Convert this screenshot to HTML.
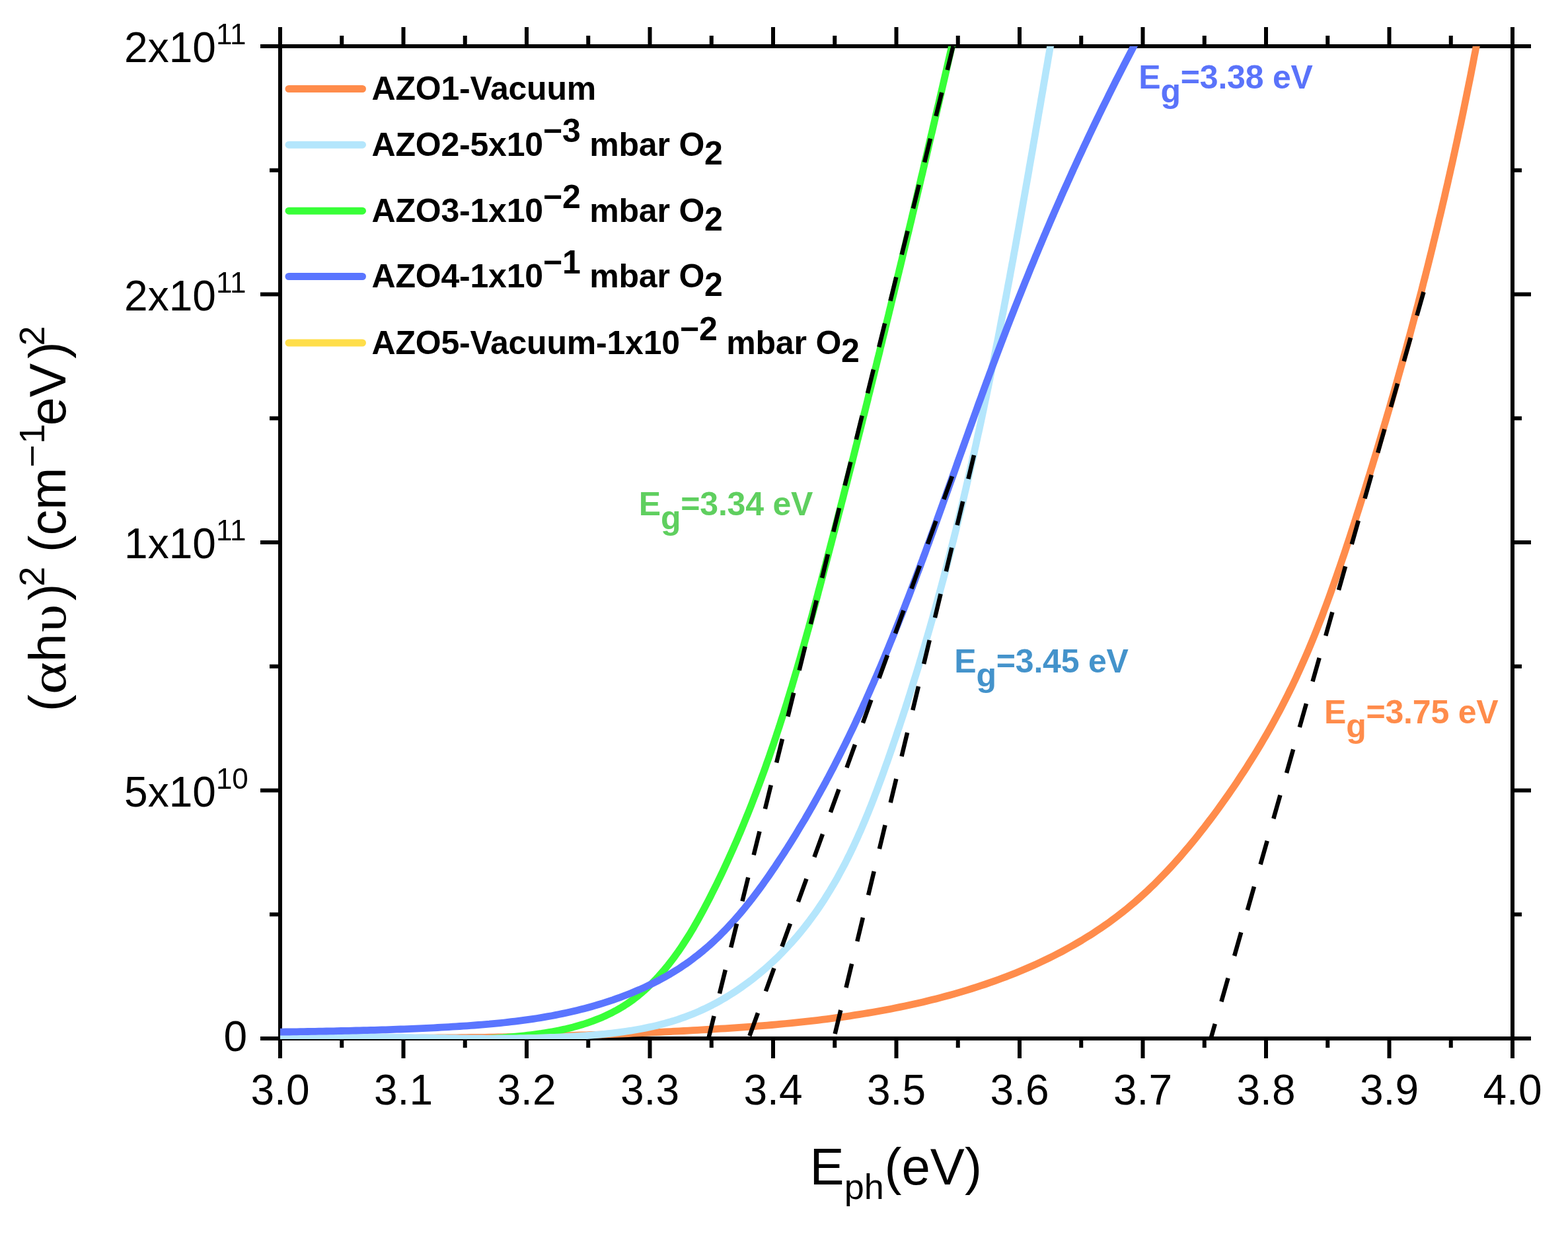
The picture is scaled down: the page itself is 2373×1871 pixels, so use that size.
<!DOCTYPE html>
<html><head><meta charset="utf-8"><title>Tauc plot</title>
<style>html,body{margin:0;padding:0;background:#fff;}svg{display:block;}</style></head><body>
<svg width="2373" height="1871" viewBox="0 0 2373 1871" font-family="Liberation Sans, Arial, sans-serif">
<rect width="2373" height="1871" fill="#fff"/>
<defs><clipPath id="pc"><rect x="424" y="70" width="1865" height="1503"/></clipPath></defs>
<path d="M421,70 H2292 M421,1572 H2292 M424,67 V1575 M2289,67 V1575 M424.00,1572 V1602 M424.00,70 V41 M517.25,1572 V1586 M517.25,70 V54 M610.50,1572 V1602 M610.50,70 V41 M703.75,1572 V1586 M703.75,70 V54 M797.00,1572 V1602 M797.00,70 V41 M890.25,1572 V1586 M890.25,70 V54 M983.50,1572 V1602 M983.50,70 V41 M1076.75,1572 V1586 M1076.75,70 V54 M1170.00,1572 V1602 M1170.00,70 V41 M1263.25,1572 V1586 M1263.25,70 V54 M1356.50,1572 V1602 M1356.50,70 V41 M1449.75,1572 V1586 M1449.75,70 V54 M1543.00,1572 V1602 M1543.00,70 V41 M1636.25,1572 V1586 M1636.25,70 V54 M1729.50,1572 V1602 M1729.50,70 V41 M1822.75,1572 V1586 M1822.75,70 V54 M1916.00,1572 V1602 M1916.00,70 V41 M2009.25,1572 V1586 M2009.25,70 V54 M2102.50,1572 V1602 M2102.50,70 V41 M2195.75,1572 V1586 M2195.75,70 V54 M2289.00,1572 V1602 M2289.00,70 V41 M424,1572.00 H394 M2289,1572.00 H2317 M424,1384.25 H408 M2289,1384.25 H2303 M424,1196.50 H394 M2289,1196.50 H2317 M424,1008.75 H408 M2289,1008.75 H2303 M424,821.00 H394 M2289,821.00 H2317 M424,633.25 H408 M2289,633.25 H2303 M424,445.50 H394 M2289,445.50 H2317 M424,257.75 H408 M2289,257.75 H2303 M424,70.00 H394 M2289,70.00 H2317" stroke="#000" stroke-width="6" fill="none" stroke-linecap="butt"/>
<g clip-path="url(#pc)" fill="none" stroke-width="10.8" stroke-linejoin="round">
<path d="M403.9,1570.7 L411.0,1570.8 L418.0,1570.9 L425.0,1570.9 L432.1,1570.9 L439.1,1571.0 L446.1,1571.0 L453.1,1571.1 L460.2,1571.1 L467.2,1571.2 L474.2,1571.2 L481.3,1571.2 L488.3,1571.3 L495.3,1571.3 L502.3,1571.3 L509.3,1571.3 L516.4,1571.4 L523.4,1571.4 L530.4,1571.4 L537.4,1571.4 L544.4,1571.4 L551.4,1571.4 L558.5,1571.4 L565.5,1571.4 L572.5,1571.4 L579.5,1571.4 L586.5,1571.4 L593.5,1571.4 L600.5,1571.4 L607.5,1571.3 L614.5,1571.3 L621.5,1571.3 L628.6,1571.3 L635.6,1571.2 L642.6,1571.2 L649.6,1571.1 L656.6,1571.1 L663.6,1571.0 L670.6,1571.0 L677.6,1570.9 L684.6,1570.9 L691.6,1570.8 L698.6,1570.7 L705.6,1570.6 L712.6,1570.5 L719.6,1570.5 L726.6,1570.4 L733.6,1570.3 L740.6,1570.2 L747.6,1570.1 L754.6,1569.9 L761.6,1569.8 L768.6,1569.7 L775.6,1569.6 L782.6,1569.4 L789.6,1569.3 L796.6,1569.2 L803.6,1569.0 L810.6,1568.9 L817.6,1568.7 L824.6,1568.5 L831.6,1568.4 L838.6,1568.2 L845.6,1568.0 L852.6,1567.8 L859.6,1567.6 L866.6,1567.4 L873.6,1567.2 L880.6,1567.0 L887.6,1566.8 L894.6,1566.5 L901.6,1566.3 L908.6,1566.1 L915.6,1565.8 L922.6,1565.6 L929.6,1565.3 L936.6,1565.0 L943.6,1564.8 L950.6,1564.5 L957.6,1564.2 L964.6,1563.9 L971.6,1563.6 L978.6,1563.3 L985.6,1562.9 L992.6,1562.6 L999.6,1562.3 L1006.6,1561.9 L1013.6,1561.6 L1020.6,1561.2 L1027.6,1560.9 L1034.6,1560.5 L1041.6,1560.1 L1048.7,1559.7 L1055.7,1559.3 L1062.7,1558.9 L1069.7,1558.5 L1076.7,1558.1 L1083.7,1557.7 L1090.7,1557.2 L1097.7,1556.8 L1104.7,1556.3 L1111.8,1555.8 L1118.8,1555.3 L1125.8,1554.8 L1132.8,1554.3 L1139.8,1553.8 L1146.8,1553.2 L1153.8,1552.7 L1160.8,1552.1 L1167.8,1551.5 L1174.8,1550.8 L1181.8,1550.2 L1188.8,1549.5 L1195.8,1548.9 L1202.8,1548.2 L1209.8,1547.4 L1216.7,1546.7 L1223.7,1545.9 L1230.7,1545.1 L1237.7,1544.3 L1244.6,1543.4 L1251.6,1542.6 L1258.5,1541.7 L1265.5,1540.7 L1272.4,1539.8 L1279.4,1538.8 L1286.3,1537.8 L1293.2,1536.7 L1300.2,1535.6 L1307.1,1534.5 L1314.0,1533.4 L1320.9,1532.2 L1327.8,1531.0 L1334.7,1529.8 L1341.6,1528.5 L1348.5,1527.2 L1355.3,1525.8 L1362.2,1524.4 L1369.1,1523.0 L1375.9,1521.5 L1382.7,1520.0 L1389.6,1518.5 L1396.4,1516.9 L1403.2,1515.2 L1410.0,1513.6 L1416.8,1511.9 L1423.6,1510.1 L1430.4,1508.3 L1437.2,1506.5 L1443.9,1504.6 L1450.7,1502.6 L1457.4,1500.6 L1464.1,1498.6 L1470.8,1496.5 L1477.5,1494.4 L1484.2,1492.2 L1490.9,1490.0 L1497.5,1487.7 L1504.1,1485.4 L1510.7,1483.0 L1517.3,1480.5 L1523.9,1478.1 L1530.4,1475.5 L1536.9,1472.9 L1543.4,1470.3 L1549.9,1467.6 L1556.3,1464.8 L1562.7,1462.0 L1569.1,1459.1 L1575.4,1456.2 L1581.7,1453.2 L1588.0,1450.1 L1594.3,1447.0 L1600.5,1443.8 L1606.7,1440.6 L1612.8,1437.3 L1618.9,1433.9 L1625.0,1430.5 L1631.0,1427.0 L1637.0,1423.5 L1642.9,1419.8 L1648.9,1416.2 L1654.7,1412.4 L1660.5,1408.6 L1666.3,1404.7 L1672.0,1400.8 L1677.7,1396.8 L1683.3,1392.7 L1688.9,1388.5 L1694.4,1384.3 L1699.9,1380.0 L1705.4,1375.6 L1710.7,1371.2 L1716.1,1366.7 L1721.3,1362.1 L1726.6,1357.4 L1731.7,1352.7 L1736.9,1348.0 L1741.9,1343.2 L1747.0,1338.3 L1752.0,1333.3 L1756.9,1328.3 L1761.8,1323.3 L1766.6,1318.2 L1771.5,1313.0 L1776.2,1307.9 L1780.9,1302.6 L1785.6,1297.3 L1790.2,1292.0 L1794.8,1286.6 L1799.4,1281.2 L1803.9,1275.8 L1808.4,1270.3 L1812.8,1264.8 L1817.2,1259.2 L1821.6,1253.7 L1825.9,1248.0 L1830.2,1242.4 L1834.5,1236.8 L1838.7,1231.1 L1842.9,1225.4 L1847.0,1219.6 L1851.1,1213.9 L1855.2,1208.1 L1859.3,1202.3 L1863.3,1196.5 L1867.3,1190.7 L1871.2,1184.9 L1875.1,1179.0 L1879.0,1173.1 L1882.9,1167.2 L1886.7,1161.3 L1890.4,1155.4 L1894.2,1149.4 L1897.9,1143.5 L1901.6,1137.5 L1905.2,1131.5 L1908.8,1125.5 L1912.3,1119.4 L1915.9,1113.4 L1919.3,1107.3 L1922.8,1101.2 L1926.2,1095.1 L1929.6,1088.9 L1932.9,1082.8 L1936.2,1076.6 L1939.4,1070.4 L1942.6,1064.2 L1945.8,1058.0 L1948.9,1051.8 L1952.0,1045.5 L1955.1,1039.3 L1958.1,1033.0 L1961.1,1026.7 L1964.0,1020.3 L1966.9,1014.0 L1969.8,1007.6 L1972.6,1001.3 L1975.4,994.9 L1978.2,988.5 L1980.9,982.1 L1983.6,975.6 L1986.3,969.2 L1988.9,962.7 L1991.5,956.2 L1994.1,949.8 L1996.6,943.3 L1999.2,936.7 L2001.7,930.2 L2004.1,923.7 L2006.6,917.1 L2009.0,910.6 L2011.4,904.0 L2013.8,897.4 L2016.1,890.8 L2018.5,884.2 L2020.8,877.6 L2023.1,871.0 L2025.4,864.4 L2027.7,857.8 L2030.0,851.1 L2032.2,844.5 L2034.5,837.9 L2036.7,831.2 L2038.9,824.5 L2041.1,817.9 L2043.3,811.2 L2045.4,804.5 L2047.6,797.9 L2049.8,791.2 L2051.9,784.5 L2054.0,777.8 L2056.2,771.1 L2058.3,764.4 L2060.4,757.7 L2062.5,751.0 L2064.6,744.4 L2066.7,737.7 L2068.7,730.9 L2070.8,724.2 L2072.9,717.5 L2074.9,710.8 L2077.0,704.1 L2079.0,697.4 L2081.1,690.7 L2083.1,684.0 L2085.1,677.3 L2087.1,670.5 L2089.1,663.8 L2091.1,657.1 L2093.1,650.4 L2095.1,643.6 L2097.1,636.9 L2099.0,630.2 L2101.0,623.5 L2103.0,616.7 L2104.9,610.0 L2106.8,603.2 L2108.8,596.5 L2110.7,589.8 L2112.6,583.0 L2114.5,576.3 L2116.4,569.5 L2118.3,562.8 L2120.2,556.0 L2122.1,549.3 L2123.9,542.5 L2125.8,535.7 L2127.7,529.0 L2129.5,522.2 L2131.3,515.5 L2133.2,508.7 L2135.0,501.9 L2136.8,495.1 L2138.6,488.4 L2140.4,481.6 L2142.2,474.8 L2144.0,468.0 L2145.8,461.3 L2147.5,454.5 L2149.3,447.7 L2151.1,440.9 L2152.8,434.1 L2154.5,427.3 L2156.3,420.5 L2158.0,413.7 L2159.7,407.0 L2161.4,400.2 L2163.1,393.4 L2164.8,386.6 L2166.5,379.7 L2168.2,372.9 L2169.8,366.1 L2171.5,359.3 L2173.1,352.5 L2174.8,345.7 L2176.4,338.9 L2178.0,332.1 L2179.7,325.2 L2181.3,318.4 L2182.9,311.6 L2184.5,304.8 L2186.1,298.0 L2187.6,291.1 L2189.2,284.3 L2190.8,277.5 L2192.3,270.6 L2193.9,263.8 L2195.4,256.9 L2197.0,250.1 L2198.5,243.3 L2200.0,236.4 L2201.5,229.6 L2203.0,222.7 L2204.5,215.9 L2206.0,209.0 L2207.4,202.2 L2208.9,195.3 L2210.4,188.5 L2211.8,181.6 L2213.3,174.7 L2214.7,167.9 L2216.1,161.0 L2217.5,154.1 L2218.9,147.3 L2220.3,140.4 L2221.7,133.5 L2223.1,126.6 L2224.5,119.8 L2225.9,112.9 L2227.2,106.0 L2228.6,99.1 L2229.9,92.2 L2231.2,85.3 L2232.6,78.5 L2233.9,71.6 L2235.2,64.7 L2236.5,57.8 L2237.8,50.9 L2239.1,44.0" stroke="#FF8C4B"/>
<path d="M403.7,1579.1 L409.2,1579.7 L414.8,1580.2 L420.3,1580.8 L425.8,1581.2 L431.2,1581.7 L436.7,1582.1 L442.2,1582.5 L447.6,1582.8 L453.1,1583.2 L458.5,1583.5 L463.9,1583.7 L469.3,1584.0 L474.7,1584.2 L480.1,1584.4 L485.5,1584.5 L490.9,1584.6 L496.2,1584.7 L501.6,1584.8 L506.9,1584.9 L512.3,1584.9 L517.6,1584.9 L522.9,1584.9 L528.2,1584.8 L533.6,1584.8 L538.9,1584.7 L544.2,1584.6 L549.5,1584.5 L554.8,1584.3 L560.1,1584.2 L565.3,1584.0 L570.6,1583.8 L575.9,1583.6 L581.2,1583.4 L586.5,1583.1 L591.7,1582.9 L597.0,1582.6 L602.3,1582.3 L607.5,1582.0 L612.8,1581.7 L618.1,1581.4 L623.3,1581.1 L628.6,1580.7 L633.9,1580.4 L639.1,1580.0 L644.4,1579.7 L649.7,1579.3 L654.9,1578.9 L660.2,1578.5 L665.5,1578.1 L670.8,1577.7 L676.0,1577.3 L681.3,1576.9 L686.6,1576.5 L691.9,1576.1 L697.2,1575.7 L702.5,1575.3 L707.8,1574.9 L713.1,1574.5 L718.4,1574.1 L723.7,1573.7 L729.0,1573.3 L734.4,1572.9 L739.7,1572.4 L745.1,1572.0 L750.4,1571.6 L755.8,1571.2 L761.1,1570.8 L766.5,1570.3 L771.8,1569.9 L777.2,1569.4 L782.5,1568.9 L787.9,1568.3 L793.2,1567.8 L798.5,1567.2 L803.9,1566.5 L809.2,1565.8 L814.5,1565.1 L819.8,1564.4 L825.1,1563.5 L830.4,1562.7 L835.7,1561.8 L841.0,1560.8 L846.2,1559.7 L851.4,1558.6 L856.7,1557.5 L861.9,1556.2 L867.1,1554.9 L872.2,1553.5 L877.4,1552.0 L882.5,1550.5 L887.6,1548.8 L892.6,1547.1 L897.6,1545.3 L902.6,1543.4 L907.6,1541.4 L912.4,1539.4 L917.3,1537.2 L922.1,1534.9 L926.8,1532.6 L931.5,1530.1 L936.1,1527.5 L940.6,1524.9 L945.1,1522.1 L949.5,1519.2 L953.8,1516.2 L958.1,1513.2 L962.3,1510.0 L966.4,1506.7 L970.4,1503.3 L974.4,1499.9 L978.4,1496.3 L982.2,1492.7 L986.0,1489.0 L989.7,1485.3 L993.4,1481.5 L997.0,1477.6 L1000.5,1473.6 L1004.0,1469.6 L1007.4,1465.5 L1010.8,1461.4 L1014.1,1457.2 L1017.3,1453.0 L1020.5,1448.7 L1023.6,1444.4 L1026.7,1440.1 L1029.7,1435.7 L1032.7,1431.3 L1035.6,1426.8 L1038.5,1422.3 L1041.4,1417.8 L1044.2,1413.3 L1046.9,1408.7 L1049.7,1404.1 L1052.3,1399.4 L1055.0,1394.8 L1057.6,1390.1 L1060.2,1385.4 L1062.8,1380.7 L1065.3,1376.0 L1067.8,1371.2 L1070.3,1366.5 L1072.8,1361.7 L1075.2,1357.0 L1077.6,1352.2 L1080.0,1347.4 L1082.4,1342.6 L1084.8,1337.8 L1087.1,1333.0 L1089.5,1328.2 L1091.8,1323.4 L1094.1,1318.5 L1096.3,1313.7 L1098.6,1308.8 L1100.8,1304.0 L1103.0,1299.1 L1105.2,1294.3 L1107.4,1289.4 L1109.6,1284.5 L1111.7,1279.6 L1113.9,1274.7 L1116.0,1269.8 L1118.1,1264.9 L1120.2,1260.0 L1122.2,1255.1 L1124.3,1250.2 L1126.3,1245.3 L1128.3,1240.3 L1130.3,1235.4 L1132.3,1230.4 L1134.3,1225.5 L1136.3,1220.5 L1138.2,1215.6 L1140.1,1210.6 L1142.0,1205.6 L1143.9,1200.7 L1145.8,1195.7 L1147.7,1190.7 L1149.6,1185.7 L1151.4,1180.7 L1153.2,1175.7 L1155.1,1170.7 L1156.9,1165.7 L1158.7,1160.6 L1160.4,1155.6 L1162.2,1150.6 L1164.0,1145.6 L1165.7,1140.5 L1167.4,1135.5 L1169.2,1130.4 L1170.9,1125.4 L1172.6,1120.3 L1174.3,1115.3 L1175.9,1110.2 L1177.6,1105.1 L1179.3,1100.1 L1180.9,1095.0 L1182.5,1089.9 L1184.2,1084.8 L1185.8,1079.8 L1187.4,1074.7 L1189.0,1069.6 L1190.6,1064.5 L1192.1,1059.4 L1193.7,1054.3 L1195.3,1049.2 L1196.8,1044.1 L1198.4,1039.0 L1199.9,1033.8 L1201.4,1028.7 L1202.9,1023.6 L1204.4,1018.5 L1205.9,1013.4 L1207.4,1008.2 L1208.9,1003.1 L1210.4,998.0 L1211.9,992.8 L1213.3,987.7 L1214.8,982.6 L1216.3,977.4 L1217.7,972.3 L1219.2,967.1 L1220.6,962.0 L1222.0,956.8 L1223.5,951.7 L1224.9,946.5 L1226.3,941.4 L1227.7,936.2 L1229.1,931.1 L1230.5,925.9 L1231.9,920.7 L1233.3,915.6 L1234.7,910.4 L1236.1,905.3 L1237.5,900.1 L1238.8,894.9 L1240.2,889.8 L1241.6,884.6 L1243.0,879.4 L1244.3,874.3 L1245.7,869.1 L1247.0,863.9 L1248.4,858.7 L1249.8,853.6 L1251.1,848.4 L1252.5,843.2 L1253.8,838.1 L1255.2,832.9 L1256.5,827.7 L1257.9,822.5 L1259.2,817.4 L1260.6,812.2 L1261.9,807.0 L1263.3,801.9 L1264.6,796.7 L1265.9,791.5 L1267.3,786.3 L1268.6,781.2 L1269.9,776.0 L1271.3,770.8 L1272.6,765.6 L1273.9,760.5 L1275.3,755.3 L1276.6,750.1 L1277.9,744.9 L1279.2,739.8 L1280.6,734.6 L1281.9,729.4 L1283.2,724.2 L1284.5,719.1 L1285.8,713.9 L1287.2,708.7 L1288.5,703.5 L1289.8,698.4 L1291.1,693.2 L1292.4,688.0 L1293.7,682.8 L1295.0,677.6 L1296.3,672.5 L1297.6,667.3 L1298.9,662.1 L1300.2,656.9 L1301.5,651.8 L1302.8,646.6 L1304.1,641.4 L1305.4,636.2 L1306.7,631.0 L1308.0,625.9 L1309.3,620.7 L1310.6,615.5 L1311.9,610.3 L1313.2,605.1 L1314.4,599.9 L1315.7,594.8 L1317.0,589.6 L1318.3,584.4 L1319.6,579.2 L1320.9,574.0 L1322.1,568.9 L1323.4,563.7 L1324.7,558.5 L1326.0,553.3 L1327.2,548.1 L1328.5,542.9 L1329.8,537.8 L1331.1,532.6 L1332.3,527.4 L1333.6,522.2 L1334.9,517.0 L1336.1,511.8 L1337.4,506.6 L1338.7,501.5 L1339.9,496.3 L1341.2,491.1 L1342.4,485.9 L1343.7,480.7 L1345.0,475.5 L1346.2,470.3 L1347.5,465.1 L1348.7,460.0 L1350.0,454.8 L1351.2,449.6 L1352.5,444.4 L1353.7,439.2 L1355.0,434.0 L1356.2,428.8 L1357.5,423.6 L1358.7,418.4 L1360.0,413.2 L1361.2,408.1 L1362.5,402.9 L1363.7,397.7 L1365.0,392.5 L1366.2,387.3 L1367.4,382.1 L1368.7,376.9 L1369.9,371.7 L1371.2,366.5 L1372.4,361.3 L1373.6,356.1 L1374.9,350.9 L1376.1,345.8 L1377.3,340.6 L1378.6,335.4 L1379.8,330.2 L1381.0,325.0 L1382.3,319.8 L1383.5,314.6 L1384.7,309.4 L1386.0,304.2 L1387.2,299.0 L1388.4,293.8 L1389.6,288.6 L1390.9,283.4 L1392.1,278.2 L1393.3,273.0 L1394.5,267.8 L1395.8,262.6 L1397.0,257.4 L1398.2,252.2 L1399.4,247.0 L1400.6,241.8 L1401.9,236.6 L1403.1,231.4 L1404.3,226.2 L1405.5,221.0 L1406.7,215.8 L1407.9,210.6 L1409.1,205.4 L1410.4,200.2 L1411.6,195.0 L1412.8,189.8 L1414.0,184.6 L1415.2,179.4 L1416.4,174.2 L1417.6,169.0 L1418.8,163.8 L1420.1,158.6 L1421.3,153.4 L1422.5,148.2 L1423.7,143.0 L1424.9,137.8 L1426.1,132.6 L1427.3,127.4 L1428.5,122.2 L1429.7,117.0 L1430.9,111.8 L1432.1,106.6 L1433.3,101.4 L1434.5,96.2 L1435.7,90.9 L1436.9,85.7 L1438.1,80.5 L1439.3,75.3 L1440.5,70.1 L1441.7,64.9 L1442.9,59.7 L1444.1,54.5 L1445.3,49.3 L1446.5,44.1" stroke="#38FF38"/>
<path d="M404.0,1572.7 L409.8,1572.4 L415.5,1572.1 L421.3,1571.8 L427.0,1571.5 L432.7,1571.3 L438.5,1571.1 L444.2,1570.9 L449.9,1570.7 L455.7,1570.5 L461.4,1570.4 L467.1,1570.3 L472.9,1570.1 L478.6,1570.0 L484.3,1570.0 L490.0,1569.9 L495.7,1569.8 L501.5,1569.8 L507.2,1569.7 L512.9,1569.7 L518.6,1569.7 L524.3,1569.7 L530.0,1569.7 L535.7,1569.7 L541.5,1569.7 L547.2,1569.7 L552.9,1569.8 L558.6,1569.8 L564.3,1569.9 L570.0,1569.9 L575.7,1570.0 L581.4,1570.1 L587.1,1570.1 L592.8,1570.2 L598.6,1570.3 L604.3,1570.4 L610.0,1570.5 L615.7,1570.6 L621.4,1570.7 L627.1,1570.8 L632.8,1570.8 L638.5,1570.9 L644.2,1571.0 L649.9,1571.1 L655.6,1571.2 L661.4,1571.3 L667.1,1571.4 L672.8,1571.5 L678.5,1571.6 L684.2,1571.6 L689.9,1571.7 L695.6,1571.8 L701.4,1571.8 L707.1,1571.9 L712.8,1571.9 L718.5,1572.0 L724.3,1572.0 L730.0,1572.0 L735.7,1572.1 L741.4,1572.1 L747.2,1572.1 L752.9,1572.0 L758.6,1572.0 L764.4,1572.0 L770.1,1571.9 L775.8,1571.9 L781.6,1571.8 L787.3,1571.7 L793.1,1571.6 L798.8,1571.5 L804.6,1571.4 L810.3,1571.3 L816.1,1571.1 L821.8,1570.9 L827.6,1570.7 L833.4,1570.5 L839.1,1570.3 L844.9,1570.1 L850.7,1569.8 L856.5,1569.5 L862.2,1569.2 L868.0,1568.9 L873.8,1568.6 L879.6,1568.2 L885.4,1567.8 L891.1,1567.4 L896.9,1566.9 L902.7,1566.4 L908.5,1565.9 L914.2,1565.3 L920.0,1564.7 L925.7,1564.1 L931.4,1563.4 L937.2,1562.7 L942.9,1561.9 L948.6,1561.0 L954.3,1560.2 L959.9,1559.2 L965.6,1558.2 L971.2,1557.2 L976.8,1556.1 L982.4,1554.9 L988.0,1553.7 L993.5,1552.4 L999.1,1551.0 L1004.6,1549.6 L1010.1,1548.0 L1015.5,1546.5 L1020.9,1544.8 L1026.3,1543.1 L1031.7,1541.2 L1037.0,1539.3 L1042.3,1537.3 L1047.6,1535.3 L1052.8,1533.1 L1058.0,1530.9 L1063.1,1528.5 L1068.3,1526.1 L1073.4,1523.6 L1078.4,1521.1 L1083.4,1518.4 L1088.4,1515.7 L1093.3,1512.9 L1098.2,1510.0 L1103.1,1507.0 L1107.9,1504.0 L1112.6,1500.9 L1117.4,1497.7 L1122.1,1494.5 L1126.7,1491.2 L1131.3,1487.8 L1135.9,1484.4 L1140.4,1480.9 L1144.9,1477.3 L1149.3,1473.7 L1153.7,1470.0 L1158.0,1466.3 L1162.3,1462.5 L1166.5,1458.6 L1170.7,1454.7 L1174.9,1450.8 L1179.0,1446.8 L1183.0,1442.7 L1187.0,1438.6 L1191.0,1434.4 L1194.8,1430.2 L1198.7,1426.0 L1202.5,1421.7 L1206.2,1417.4 L1209.9,1413.0 L1213.5,1408.6 L1217.1,1404.1 L1220.6,1399.6 L1224.1,1395.1 L1227.5,1390.5 L1230.9,1385.9 L1234.2,1381.3 L1237.5,1376.6 L1240.7,1371.9 L1243.8,1367.2 L1247.0,1362.5 L1250.0,1357.7 L1253.0,1352.8 L1256.0,1348.0 L1258.9,1343.1 L1261.8,1338.2 L1264.7,1333.3 L1267.5,1328.3 L1270.2,1323.3 L1272.9,1318.3 L1275.6,1313.3 L1278.3,1308.2 L1280.9,1303.1 L1283.4,1298.0 L1286.0,1292.9 L1288.5,1287.7 L1290.9,1282.6 L1293.3,1277.4 L1295.7,1272.2 L1298.1,1267.0 L1300.4,1261.7 L1302.8,1256.5 L1305.0,1251.2 L1307.3,1245.9 L1309.5,1240.6 L1311.7,1235.3 L1313.9,1230.0 L1316.0,1224.6 L1318.2,1219.3 L1320.3,1213.9 L1322.4,1208.5 L1324.4,1203.1 L1326.5,1197.7 L1328.5,1192.3 L1330.5,1186.9 L1332.5,1181.5 L1334.5,1176.1 L1336.5,1170.7 L1338.4,1165.2 L1340.3,1159.8 L1342.3,1154.4 L1344.2,1148.9 L1346.1,1143.5 L1348.0,1138.0 L1349.9,1132.6 L1351.7,1127.1 L1353.6,1121.7 L1355.5,1116.2 L1357.3,1110.8 L1359.1,1105.3 L1361.0,1099.9 L1362.8,1094.4 L1364.6,1089.0 L1366.4,1083.5 L1368.2,1078.0 L1370.0,1072.6 L1371.7,1067.1 L1373.5,1061.6 L1375.2,1056.1 L1377.0,1050.7 L1378.7,1045.2 L1380.4,1039.7 L1382.1,1034.2 L1383.8,1028.7 L1385.5,1023.3 L1387.2,1017.8 L1388.9,1012.3 L1390.6,1006.8 L1392.2,1001.3 L1393.9,995.8 L1395.5,990.3 L1397.1,984.8 L1398.8,979.3 L1400.4,973.8 L1402.0,968.3 L1403.6,962.8 L1405.2,957.3 L1406.8,951.8 L1408.3,946.3 L1409.9,940.8 L1411.5,935.3 L1413.0,929.7 L1414.6,924.2 L1416.1,918.7 L1417.6,913.2 L1419.1,907.7 L1420.6,902.2 L1422.1,896.6 L1423.6,891.1 L1425.1,885.6 L1426.6,880.0 L1428.1,874.5 L1429.5,869.0 L1431.0,863.5 L1432.5,857.9 L1433.9,852.4 L1435.3,846.8 L1436.8,841.3 L1438.2,835.8 L1439.6,830.2 L1441.0,824.7 L1442.4,819.1 L1443.8,813.6 L1445.2,808.0 L1446.6,802.5 L1447.9,796.9 L1449.3,791.4 L1450.7,785.8 L1452.0,780.3 L1453.4,774.7 L1454.7,769.2 L1456.0,763.6 L1457.4,758.0 L1458.7,752.5 L1460.0,746.9 L1461.3,741.4 L1462.6,735.8 L1463.9,730.2 L1465.2,724.7 L1466.5,719.1 L1467.8,713.5 L1469.0,707.9 L1470.3,702.4 L1471.6,696.8 L1472.8,691.2 L1474.1,685.6 L1475.3,680.1 L1476.6,674.5 L1477.8,668.9 L1479.0,663.3 L1480.2,657.7 L1481.5,652.2 L1482.7,646.6 L1483.9,641.0 L1485.1,635.4 L1486.3,629.8 L1487.5,624.2 L1488.7,618.6 L1489.8,613.0 L1491.0,607.4 L1492.2,601.8 L1493.4,596.2 L1494.5,590.6 L1495.7,585.1 L1496.8,579.5 L1498.0,573.9 L1499.1,568.3 L1500.3,562.6 L1501.4,557.0 L1502.5,551.4 L1503.7,545.8 L1504.8,540.2 L1505.9,534.6 L1507.0,529.0 L1508.1,523.4 L1509.3,517.8 L1510.4,512.2 L1511.5,506.6 L1512.6,501.0 L1513.7,495.3 L1514.7,489.7 L1515.8,484.1 L1516.9,478.5 L1518.0,472.9 L1519.1,467.3 L1520.1,461.6 L1521.2,456.0 L1522.3,450.4 L1523.3,444.8 L1524.4,439.2 L1525.4,433.5 L1526.5,427.9 L1527.6,422.3 L1528.6,416.7 L1529.6,411.0 L1530.7,405.4 L1531.7,399.8 L1532.8,394.2 L1533.8,388.5 L1534.8,382.9 L1535.9,377.3 L1536.9,371.6 L1537.9,366.0 L1538.9,360.4 L1539.9,354.7 L1541.0,349.1 L1542.0,343.5 L1543.0,337.8 L1544.0,332.2 L1545.0,326.6 L1546.0,320.9 L1547.0,315.3 L1548.0,309.6 L1549.0,304.0 L1550.0,298.4 L1551.0,292.7 L1552.0,287.1 L1553.0,281.4 L1554.0,275.8 L1555.0,270.2 L1556.0,264.5 L1557.0,258.9 L1557.9,253.2 L1558.9,247.6 L1559.9,241.9 L1560.9,236.3 L1561.9,230.6 L1562.9,225.0 L1563.8,219.4 L1564.8,213.7 L1565.8,208.1 L1566.8,202.4 L1567.7,196.8 L1568.7,191.1 L1569.7,185.5 L1570.7,179.8 L1571.6,174.2 L1572.6,168.5 L1573.6,162.9 L1574.6,157.2 L1575.5,151.6 L1576.5,145.9 L1577.5,140.3 L1578.5,134.6 L1579.4,128.9 L1580.4,123.3 L1581.4,117.6 L1582.3,112.0 L1583.3,106.3 L1584.3,100.7 L1585.3,95.0 L1586.2,89.4 L1587.2,83.7 L1588.2,78.1 L1589.2,72.4 L1590.1,66.7 L1591.1,61.1 L1592.1,55.4 L1593.1,49.8 L1594.0,44.1" stroke="#B4E6FC"/>
<path d="M404.0,1562.5 L409.6,1562.4 L415.2,1562.3 L420.8,1562.2 L426.4,1562.1 L432.0,1562.0 L437.6,1562.0 L443.3,1561.9 L448.9,1561.8 L454.5,1561.7 L460.1,1561.6 L465.7,1561.5 L471.3,1561.4 L476.9,1561.3 L482.6,1561.2 L488.2,1561.1 L493.8,1561.0 L499.4,1560.9 L505.0,1560.8 L510.7,1560.7 L516.3,1560.5 L521.9,1560.4 L527.5,1560.3 L533.1,1560.2 L538.8,1560.0 L544.4,1559.9 L550.0,1559.7 L555.6,1559.6 L561.3,1559.4 L566.9,1559.3 L572.5,1559.1 L578.1,1558.9 L583.7,1558.8 L589.4,1558.6 L595.0,1558.4 L600.6,1558.2 L606.2,1558.0 L611.8,1557.8 L617.4,1557.6 L623.0,1557.3 L628.7,1557.1 L634.3,1556.9 L639.9,1556.6 L645.5,1556.3 L651.1,1556.1 L656.7,1555.8 L662.3,1555.5 L667.9,1555.2 L673.5,1554.9 L679.1,1554.6 L684.7,1554.2 L690.3,1553.9 L695.9,1553.5 L701.4,1553.2 L707.0,1552.8 L712.6,1552.4 L718.2,1552.0 L723.8,1551.5 L729.3,1551.1 L734.9,1550.6 L740.5,1550.2 L746.1,1549.6 L751.6,1549.1 L757.2,1548.6 L762.7,1548.0 L768.3,1547.4 L773.8,1546.7 L779.4,1546.1 L785.0,1545.4 L790.5,1544.7 L796.0,1543.9 L801.6,1543.1 L807.1,1542.3 L812.7,1541.5 L818.2,1540.6 L823.7,1539.6 L829.2,1538.7 L834.8,1537.7 L840.3,1536.6 L845.8,1535.5 L851.3,1534.4 L856.8,1533.2 L862.3,1532.0 L867.8,1530.7 L873.3,1529.4 L878.8,1528.1 L884.3,1526.7 L889.8,1525.2 L895.3,1523.7 L900.7,1522.1 L906.2,1520.5 L911.6,1518.9 L917.0,1517.2 L922.4,1515.4 L927.8,1513.6 L933.1,1511.7 L938.4,1509.8 L943.7,1507.8 L949.0,1505.8 L954.3,1503.7 L959.5,1501.5 L964.7,1499.3 L969.9,1497.1 L975.0,1494.8 L980.1,1492.4 L985.2,1489.9 L990.2,1487.4 L995.2,1484.9 L1000.1,1482.3 L1005.1,1479.6 L1009.9,1476.8 L1014.8,1474.0 L1019.5,1471.1 L1024.3,1468.2 L1029.0,1465.2 L1033.6,1462.1 L1038.2,1459.0 L1042.7,1455.8 L1047.2,1452.5 L1051.6,1449.1 L1056.0,1445.7 L1060.3,1442.2 L1064.6,1438.7 L1068.8,1435.1 L1073.0,1431.5 L1077.1,1427.7 L1081.2,1424.0 L1085.2,1420.1 L1089.2,1416.3 L1093.1,1412.3 L1097.0,1408.4 L1100.8,1404.3 L1104.6,1400.2 L1108.4,1396.1 L1112.1,1392.0 L1115.8,1387.7 L1119.5,1383.5 L1123.1,1379.2 L1126.7,1374.9 L1130.2,1370.5 L1133.7,1366.1 L1137.2,1361.7 L1140.6,1357.2 L1144.0,1352.7 L1147.4,1348.2 L1150.7,1343.7 L1154.1,1339.1 L1157.3,1334.5 L1160.6,1329.9 L1163.8,1325.3 L1167.0,1320.6 L1170.2,1315.9 L1173.4,1311.3 L1176.5,1306.5 L1179.6,1301.8 L1182.7,1297.1 L1185.8,1292.4 L1188.8,1287.6 L1191.9,1282.9 L1194.9,1278.1 L1197.9,1273.3 L1200.8,1268.6 L1203.8,1263.8 L1206.7,1259.0 L1209.6,1254.1 L1212.5,1249.3 L1215.4,1244.5 L1218.3,1239.7 L1221.1,1234.8 L1223.9,1230.0 L1226.7,1225.1 L1229.5,1220.2 L1232.3,1215.3 L1235.0,1210.4 L1237.7,1205.5 L1240.4,1200.6 L1243.1,1195.7 L1245.8,1190.8 L1248.5,1185.9 L1251.1,1180.9 L1253.8,1176.0 L1256.4,1171.0 L1259.0,1166.0 L1261.6,1161.1 L1264.1,1156.1 L1266.7,1151.1 L1269.2,1146.1 L1271.7,1141.1 L1274.2,1136.1 L1276.7,1131.1 L1279.2,1126.1 L1281.7,1121.0 L1284.1,1116.0 L1286.5,1111.0 L1289.0,1105.9 L1291.4,1100.9 L1293.8,1095.8 L1296.1,1090.7 L1298.5,1085.7 L1300.9,1080.6 L1303.2,1075.5 L1305.5,1070.4 L1307.8,1065.3 L1310.2,1060.2 L1312.4,1055.1 L1314.7,1050.0 L1317.0,1044.8 L1319.2,1039.7 L1321.5,1034.6 L1323.7,1029.4 L1326.0,1024.3 L1328.2,1019.1 L1330.4,1014.0 L1332.6,1008.8 L1334.7,1003.7 L1336.9,998.5 L1339.1,993.3 L1341.2,988.1 L1343.4,983.0 L1345.5,977.8 L1347.6,972.6 L1349.7,967.4 L1351.8,962.2 L1353.9,957.0 L1356.0,951.8 L1358.1,946.5 L1360.2,941.3 L1362.2,936.1 L1364.3,930.9 L1366.3,925.7 L1368.4,920.4 L1370.4,915.2 L1372.4,910.0 L1374.5,904.7 L1376.5,899.5 L1378.5,894.2 L1380.5,889.0 L1382.5,883.7 L1384.5,878.5 L1386.4,873.2 L1388.4,867.9 L1390.4,862.7 L1392.4,857.4 L1394.3,852.1 L1396.3,846.9 L1398.2,841.6 L1400.2,836.3 L1402.1,831.0 L1404.0,825.7 L1406.0,820.5 L1407.9,815.2 L1409.8,809.9 L1411.8,804.6 L1413.7,799.3 L1415.6,794.0 L1417.5,788.7 L1419.4,783.4 L1421.3,778.1 L1423.2,772.9 L1425.1,767.6 L1427.0,762.3 L1428.9,757.0 L1430.8,751.7 L1432.7,746.4 L1434.6,741.1 L1436.5,735.8 L1438.4,730.5 L1440.3,725.2 L1442.2,719.9 L1444.1,714.6 L1446.0,709.2 L1447.9,703.9 L1449.7,698.6 L1451.6,693.3 L1453.5,688.0 L1455.4,682.7 L1457.3,677.4 L1459.2,672.1 L1461.1,666.8 L1463.0,661.5 L1464.9,656.2 L1466.8,650.9 L1468.7,645.6 L1470.6,640.4 L1472.5,635.1 L1474.4,629.8 L1476.3,624.5 L1478.2,619.2 L1480.1,613.9 L1482.0,608.6 L1484.0,603.3 L1485.9,598.0 L1487.8,592.8 L1489.7,587.5 L1491.7,582.2 L1493.6,576.9 L1495.6,571.7 L1497.5,566.4 L1499.5,561.1 L1501.4,555.8 L1503.4,550.6 L1505.4,545.3 L1507.3,540.1 L1509.3,534.8 L1511.3,529.6 L1513.3,524.3 L1515.3,519.1 L1517.3,513.8 L1519.3,508.6 L1521.3,503.3 L1523.3,498.1 L1525.3,492.9 L1527.4,487.6 L1529.4,482.4 L1531.4,477.2 L1533.5,471.9 L1535.5,466.7 L1537.6,461.5 L1539.7,456.3 L1541.7,451.1 L1543.8,445.9 L1545.9,440.7 L1548.0,435.5 L1550.1,430.3 L1552.2,425.1 L1554.3,419.9 L1556.4,414.7 L1558.5,409.5 L1560.6,404.3 L1562.8,399.1 L1564.9,393.9 L1567.0,388.7 L1569.2,383.6 L1571.3,378.4 L1573.5,373.2 L1575.7,368.1 L1577.8,362.9 L1580.0,357.7 L1582.2,352.6 L1584.4,347.4 L1586.6,342.3 L1588.8,337.1 L1591.0,332.0 L1593.3,326.8 L1595.5,321.7 L1597.7,316.6 L1600.0,311.4 L1602.2,306.3 L1604.5,301.2 L1606.7,296.0 L1609.0,290.9 L1611.3,285.8 L1613.6,280.7 L1615.9,275.6 L1618.2,270.5 L1620.5,265.4 L1622.8,260.2 L1625.1,255.1 L1627.5,250.0 L1629.8,245.0 L1632.1,239.9 L1634.5,234.8 L1636.9,229.7 L1639.2,224.6 L1641.6,219.5 L1644.0,214.5 L1646.4,209.4 L1648.8,204.3 L1651.2,199.2 L1653.6,194.2 L1656.0,189.1 L1658.4,184.1 L1660.9,179.0 L1663.3,174.0 L1665.8,168.9 L1668.2,163.9 L1670.7,158.8 L1673.2,153.8 L1675.7,148.8 L1678.2,143.7 L1680.7,138.7 L1683.2,133.7 L1685.7,128.7 L1688.2,123.6 L1690.8,118.6 L1693.3,113.6 L1695.9,108.6 L1698.4,103.6 L1701.0,98.6 L1703.6,93.6 L1706.2,88.6 L1708.8,83.6 L1711.4,78.6 L1714.0,73.6 L1716.6,68.7 L1719.2,63.7 L1721.9,58.7 L1724.5,53.7 L1727.2,48.8 L1729.9,43.8" stroke="#5A75FF"/>
</g>
<g stroke="#000" stroke-width="6.5" stroke-dasharray="37 35" fill="none">
<path d="M1442.5,70.0 L1072.2,1572.0"/>
<path d="M1441.0,721.0 L1133.0,1572.0"/>
<path d="M1474.0,689.0 L1262.0,1572.0"/>
<path d="M2154.5,442.0 L1832.5,1572.0"/>
</g>
<g font-size="64" fill="#000" text-anchor="middle">
<text x="424.0" y="1672">3.0</text>
<text x="610.5" y="1672">3.1</text>
<text x="797.0" y="1672">3.2</text>
<text x="983.5" y="1672">3.3</text>
<text x="1170.0" y="1672">3.4</text>
<text x="1356.5" y="1672">3.5</text>
<text x="1543.0" y="1672">3.6</text>
<text x="1729.5" y="1672">3.7</text>
<text x="1916.0" y="1672">3.8</text>
<text x="2102.5" y="1672">3.9</text>
<text x="2289.0" y="1672">4.0</text>
</g>
<g font-size="64" fill="#000">
<text x="374.1" y="1591.0" text-anchor="end">0</text>
<text x="188.1" y="1220.5">5x10<tspan font-size="44" dy="-27">10</tspan></text>
<text x="188.1" y="845.3">1x10<tspan font-size="44" dy="-27">11</tspan></text>
<text x="188.1" y="469.8">2x10<tspan font-size="44" dy="-27">11</tspan></text>
<text x="188.1" y="94.3">2x10<tspan font-size="44" dy="-27">11</tspan></text>
</g>
<text x="1225.6" y="1792.5" font-size="78" fill="#000">E<tspan font-size="54" dy="22.2">ph</tspan><tspan dy="-22.2" dx="0.8">(eV)</tspan></text>
<g transform="translate(99.1,1077) rotate(-90)" fill="#000">
<text x="0.13" y="0" font-family="Liberation Sans" font-size="77">(</text>
<text transform="scale(1.210,1)" x="21.45" y="0" font-family="Liberation Serif" font-size="77">&#945;</text>
<text x="75.06" y="0" font-family="Liberation Sans" font-size="77">h</text>
<text transform="scale(1.100,1)" x="109.35" y="0" font-family="Liberation Serif" font-size="77">&#965;</text>
<text x="167.85" y="0" font-family="Liberation Sans" font-size="77">)</text>
<text x="189.18" y="-32" font-family="Liberation Sans" font-size="54">2</text>
<text x="241.03" y="0" font-family="Liberation Sans" font-size="77">(cm</text>
<text transform="scale(1.100,1)" x="335.70" y="-32" font-family="Liberation Sans" font-size="54">&#8722;</text>
<text x="405.29" y="-32" font-family="Liberation Sans" font-size="54">1</text>
<text x="432.83" y="0" font-family="Liberation Sans" font-size="77">eV</text>
<text x="534.05" y="0" font-family="Liberation Sans" font-size="77">)</text>
<text x="553.58" y="-32" font-family="Liberation Sans" font-size="54">2</text>
</g>
<g font-size="50" font-weight="bold" fill="#000" letter-spacing="-0.2">
<path d="M437,134.5 H548.5" stroke="#FF8C4B" stroke-width="11" stroke-linecap="round"/>
<text x="562.5" y="151.0">AZO1-Vacuum</text>
<path d="M437,219.2 H548.5" stroke="#B4E6FC" stroke-width="11" stroke-linecap="round"/>
<text x="562.5" y="235.7">AZO2-5x10<tspan dy="-20.6">&#8722;3</tspan><tspan dy="20.6"> mbar O</tspan><tspan dy="12.8">2</tspan></text>
<path d="M437,319.2 H548.5" stroke="#38FF38" stroke-width="11" stroke-linecap="round"/>
<text x="562.5" y="335.7">AZO3-1x10<tspan dy="-20.6">&#8722;2</tspan><tspan dy="20.6"> mbar O</tspan><tspan dy="12.8">2</tspan></text>
<path d="M437,418.5 H548.5" stroke="#5A75FF" stroke-width="11" stroke-linecap="round"/>
<text x="562.5" y="435.0">AZO4-1x10<tspan dy="-20.6">&#8722;1</tspan><tspan dy="20.6"> mbar O</tspan><tspan dy="12.8">2</tspan></text>
<path d="M437,519.0 H548.5" stroke="#FFDE4A" stroke-width="11" stroke-linecap="round"/>
<text x="562.5" y="535.5">AZO5-Vacuum-1x10<tspan dy="-20.6">&#8722;2</tspan><tspan dy="20.6"> mbar O</tspan><tspan dy="12.8">2</tspan></text>
</g>
<g font-size="50" font-weight="bold" letter-spacing="-0.2">
<text x="1723.3" y="133.7" fill="#5A73FA">E<tspan dy="21">g</tspan><tspan dy="-21">=3.38 eV</tspan></text>
<text x="966.8" y="779.8" fill="#5FCF5F">E<tspan dy="21">g</tspan><tspan dy="-21">=3.34 eV</tspan></text>
<text x="1444.3" y="1017.8" fill="#4493CB">E<tspan dy="21">g</tspan><tspan dy="-21">=3.45 eV</tspan></text>
<text x="2004.0" y="1095.0" fill="#FF8C4B">E<tspan dy="21">g</tspan><tspan dy="-21">=3.75 eV</tspan></text>
</g>
</svg></body></html>
